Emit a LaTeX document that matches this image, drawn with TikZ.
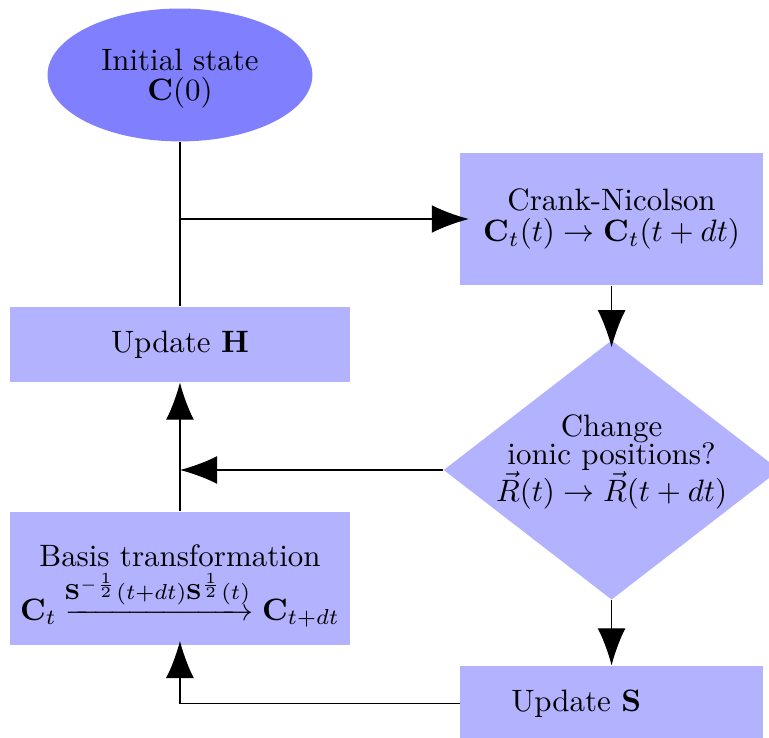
\documentclass[tikz,border=0pt]{standalone}
\usepackage{amsmath,amssymb}
\usepackage{tikz}
\usetikzlibrary{arrows.meta,shapes.geometric}

\begin{document}
\begin{tikzpicture}[>={Latex[length=12pt,width=9pt]},
  box/.style={rectangle,fill=blue!30,align=center}]
  \useasboundingbox (0,0) rectangle (8.739,-8.386);
  \node[ellipse,fill=blue!50,minimum width=3.01cm,minimum height=1.51cm,align=center] (init) at (2.045,-0.852) {\rule{0pt}{9pt}Initial state\\[-2.3pt]$\mathbf{C}(0)$};
  \node[box,minimum width=3.44cm,minimum height=1.5cm] (cn) at (6.95,-2.489) {Crank-Nicolson\\[-2pt]$\mathbf{C}_t(t)\rightarrow\mathbf{C}_t(t+dt)$};
  \node[box,minimum width=3.86cm,minimum height=0.85cm] (updh) at (2.045,-3.915) {Update $\mathbf{H}$};
  \node[diamond,fill=blue!30,align=center,inner sep=-12pt,minimum width=3.82cm,minimum height=2.95cm] (ions) at (6.95,-5.341) {Change\\[-3pt]ionic positions?\\$\vec{R}(t)\rightarrow\vec{R}(t+dt)$\rule[-7.8pt]{0pt}{7.8pt}};
  \node[box,inner xsep=0pt,minimum width=3.86cm,minimum height=1.51cm] (basis) at (2.045,-6.574) {\rule{0pt}{12pt}Basis transformation\\$\mathbf{C}_t\xrightarrow{\!\!\mathbf{S}^{-\frac{1}{2}}(t+dt)\mathbf{S}^{\frac{1}{2}}(t)\!\!}\mathbf{C}_{t+dt}$};
  \node[box,align=left,text width=2.28cm,inner xsep=0.58cm,minimum height=0.85cm] (upds) at (6.95,-7.994) {Update $\mathbf{S}$};
  \coordinate (split) at (init |- cn);
  \draw (init) -- (updh);
  \draw[->,shorten >=-3pt] (split) -- (cn);
  \draw[->,shorten >=-2.5pt] (cn) -- (ions);
  \draw[->] (ions) -- (ions -| updh);
  \draw[->] (ions) -- (upds);
  \draw[->,shorten >=-1.5pt] (upds) -| (basis);
  \draw[->] (basis) -- (updh);
\end{tikzpicture}
\end{document}
